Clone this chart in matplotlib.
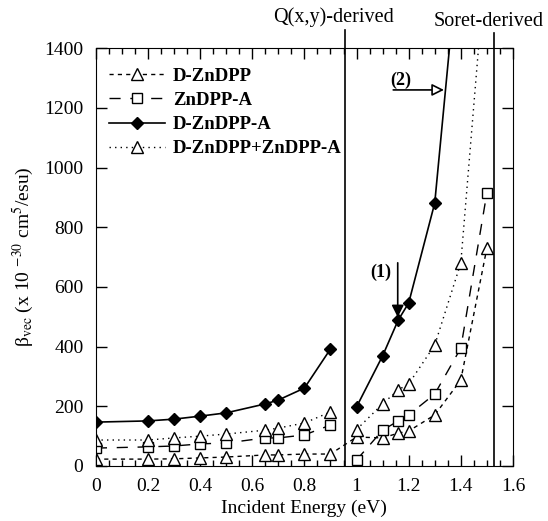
import numpy as np
import matplotlib
matplotlib.use("Agg")
import matplotlib.pyplot as plt
from matplotlib.ticker import MultipleLocator

# data (two energy windows, split at the Q-band line)
e_left = [0, 0.2, 0.3, 0.4, 0.5, 0.65, 0.7, 0.8, 0.9]
e_right = [1.0, 1.1, 1.16, 1.2, 1.3, 1.4, 1.5]

d_zndpp = [23, 23, 24, 27, 30, 37, 37, 40, 40, 97, 94, 110, 117, 171, 288, 730]
zndpp_a_left = [60, 64, 67, 74, 77, 94, 94, 104, 137]
zndpp_a_right = [20, 120, 151, 171, 241, 395, 915]
d_zndpp_a_left = [147, 151, 157, 167, 178, 208, 221, 261, 392]
d_zndpp_a_right = [198, 369, 489, 546, 881, 1800]
e_right_d = [1.0, 1.1, 1.16, 1.2, 1.3, 1.4]
sum_left = [87, 87, 94, 100, 107, 120, 127, 144, 181]
sum_right = [122, 208, 255, 275, 405, 680, 1740]

q_line = 0.955
soret_line = 1.527

plt.rcParams['font.family'] = ['Liberation Serif', 'DejaVu Serif']
plt.rcParams['mathtext.fontset'] = 'stix'

fig = plt.figure(figsize=(5.48, 5.21), dpi=100)
ax = fig.add_axes([0.175, 0.1056, 0.761, 0.802])

ax.plot(e_left + e_right, d_zndpp, color='k', lw=1, ls=(0, (3, 3)),
        marker='^', mfc='white', mec='k', ms=8, mew=1, label='D-ZnDPP')
ax.plot(e_left, zndpp_a_left, color='k', lw=1, ls=(0, (8, 7)),
        marker='s', mfc='white', mec='k', ms=7, mew=1, label='ZnDPP-A')
ax.plot(e_right, zndpp_a_right, color='k', lw=1, ls=(0, (8, 7)),
        marker='s', mfc='white', mec='k', ms=7, mew=1)
ax.plot(e_left, d_zndpp_a_left, color='k', lw=1.2, ls='-',
        marker='D', mfc='k', mec='k', ms=6, label='D-ZnDPP-A')
ax.plot(e_right_d, d_zndpp_a_right, color='k', lw=1.2, ls='-',
        marker='D', mfc='k', mec='k', ms=6)
ax.plot(e_left, sum_left, color='k', lw=1, ls=(0, (1, 3)),
        marker='^', mfc='white', mec='k', ms=8, mew=1, label='D-ZnDPP+ZnDPP-A')
ax.plot(e_right, sum_right, color='k', lw=1, ls=(0, (1, 3)),
        marker='^', mfc='white', mec='k', ms=8, mew=1)

# derived-band markers
ax.plot([q_line, q_line], [0, 1460], color='k', lw=1.2, clip_on=False)
ax.plot([soret_line, soret_line], [0, 1450], color='k', lw=1.2, clip_on=False)
ax.text(0.912, 1504, 'Q(x,y)-derived', ha='center', va='center', fontsize=14.5)
ax.text(1.508, 1490, 'Soret-derived', ha='center', va='center', fontsize=14.5)

# annotations
ax.annotate('', xy=(1.158, 489), xytext=(1.158, 690),
            arrowprops=dict(arrowstyle='-|>', color='k', lw=1.2,
                            mutation_scale=18, fc='k'))
ax.text(1.135, 650, '(1)', ha='right', va='center', fontsize=13, fontweight='bold')
ax.annotate('', xy=(1.346, 1260), xytext=(1.13, 1260),
            arrowprops=dict(arrowstyle='-|>', color='k', lw=1.2,
                            mutation_scale=18, fc='white'))
ax.text(1.13, 1292, '(2)', ha='left', va='center', fontsize=13, fontweight='bold')

ax.set_xlim(0, 1.6)
ax.set_ylim(0, 1400)
ax.xaxis.set_minor_locator(MultipleLocator(0.05))
ax.yaxis.set_major_locator(MultipleLocator(200))
ax.set_xticks([0, 0.2, 0.4, 0.6, 0.8, 1.0, 1.2, 1.4, 1.6])
ax.set_xticklabels(['0', '0.2', '0.4', '0.6', '0.8', '1', '1.2', '1.4', '1.6'])
ax.tick_params(which='both', direction='in', top=True, right=True,
               labelsize=14, width=1)
ax.tick_params(which='major', length=8, pad=9)
ax.tick_params(which='minor', length=4)
ax.tick_params(axis='y', which='minor', left=False, right=False)

ax.set_xlabel('Incident Energy (eV)', fontsize=14, labelpad=3)
ax.set_ylabel(r'β$_{\rm vec}$ (x 10 $^{-30}$ cm$^5$/esu)', fontsize=14, labelpad=6)

leg = ax.legend(loc='upper left', frameon=False, prop={'weight': 'bold', 'size': 13.5},
                handlelength=3.0, borderaxespad=0.3, labelspacing=0.38,
                handletextpad=0.4, bbox_to_anchor=(0.0, 0.985))

fig.savefig('out.png', dpi=100)
